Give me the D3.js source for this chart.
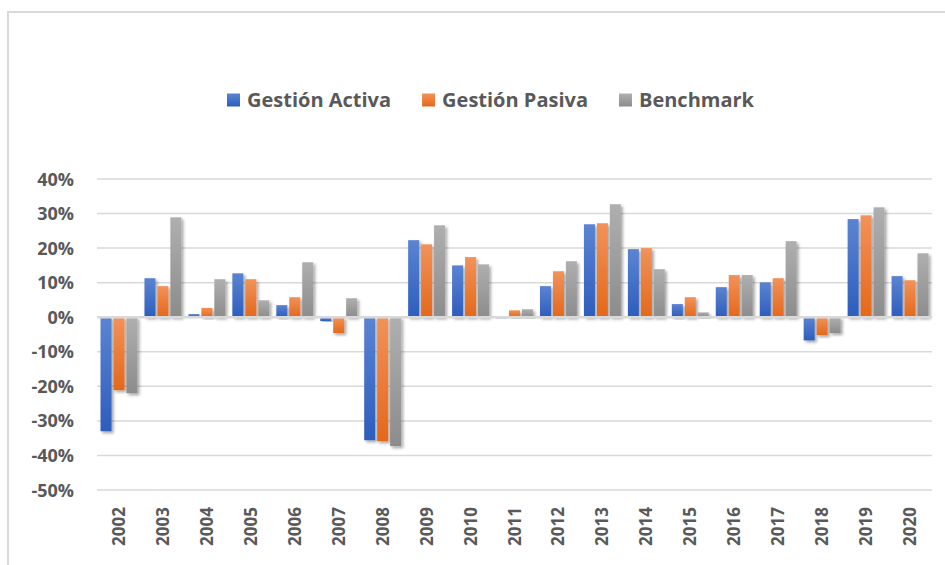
<!DOCTYPE html>
<html>
<head>
<meta charset="utf-8">
<script src="https://cdn.jsdelivr.net/npm/d3@7"></script>
<style>
  body { margin: 0; background: #fff; }
  text { font-family: "Open Sans", sans-serif; font-weight: 700; fill: #595959; }
</style>
</head>
<body>
<div id="chart"></div>
<script>
// data
var years = ["2002","2003","2004","2005","2006","2007","2008","2009","2010","2011",
             "2012","2013","2014","2015","2016","2017","2018","2019","2020"];
var series = ["Gestión Activa", "Gestión Pasiva", "Benchmark"];
var activa = [-33.0, 11.3, 0.9, 12.7, 3.5, -1.1, -35.6, 22.3, 15.0, -0.3,
              9.0, 26.9, 19.7, 3.8, 8.7, 10.1, -6.7, 28.4, 11.9];
var pasiva = [-21.1, 9.0, 2.7, 11.0, 5.8, -4.6, -35.9, 21.1, 17.4, 2.0,
              13.3, 27.2, 20.0, 5.8, 12.2, 11.3, -5.2, 29.5, 10.7];
var bench  = [-22.0, 28.9, 11.0, 4.9, 15.9, 5.5, -37.3, 26.6, 15.3, 2.3,
              16.2, 32.7, 13.9, 1.4, 12.2, 22.0, -4.6, 31.8, 18.5];
var yTicks = [40, 30, 20, 10, 0, -10, -20, -30, -40, -50];

var values = [activa, pasiva, bench];
var data = years.map(function (yr, i) {
  return series.map(function (s, k) { return {year: yr, key: s, value: values[k][i]}; });
});

var W = 945, H = 565;
var svg = d3.select("#chart").append("svg").attr("width", W).attr("height", H);

// gradients + shadow
var defs = svg.append("defs");
var grads = [["#5b84d2", "#2d5dbd"], ["#f2925a", "#e4681a"], ["#afafaf", "#8c8c8c"]];
grads.forEach(function (g, k) {
  var lg = defs.append("linearGradient").attr("id", "g" + k)
    .attr("x1", 0).attr("y1", 0).attr("x2", 0).attr("y2", 1);
  lg.append("stop").attr("offset", "0%").attr("stop-color", g[0]);
  lg.append("stop").attr("offset", "100%").attr("stop-color", g[1]);
});
defs.append("filter").attr("id", "shadow").attr("x", "-50%").attr("y", "-20%")
    .attr("width", "200%").attr("height", "140%")
  .append("feDropShadow").attr("dx", 2).attr("dy", 2).attr("stdDeviation", 1.8)
    .attr("flood-color", "#000").attr("flood-opacity", 0.35);

// frame
svg.append("path").attr("d", "M8," + H + "V12H" + W)
  .attr("fill", "none").attr("stroke", "#d9d9d9").attr("stroke-width", 2);

// scales
var y = d3.scaleLinear().domain([-50, 40]).range([490, 179]);
var x0 = d3.scaleBand().domain(years).range([97, 932]).paddingInner(0.16).paddingOuter(0.08);
var x1 = d3.scaleBand().domain(series).range([0, x0.bandwidth()]).paddingInner(0.15);

// gridlines
svg.append("g").selectAll("line").data(yTicks.filter(function (d) { return d !== 0; }))
  .enter().append("line")
  .attr("x1", 97).attr("x2", 932)
  .attr("y1", function (d) { return y(d); }).attr("y2", function (d) { return y(d); })
  .attr("stroke", "#d9d9d9").attr("stroke-width", 1.5);

// y labels
svg.append("g").selectAll("text").data(yTicks).enter().append("text")
  .attr("x", 74).attr("y", function (d) { return y(d) + 6.5; })
  .attr("text-anchor", "end").style("font-size", "18px")
  .text(function (d) { return d + "%"; });

// bars
svg.append("g").selectAll("g").data(data).enter().append("g")
  .attr("transform", function (d) { return "translate(" + x0(d[0].year) + ",0)"; })
  .selectAll("rect").data(function (d) { return d; }).enter().append("rect")
  .attr("x", function (d) { return x1(d.key); })
  .attr("width", x1.bandwidth())
  .attr("y", function (d) { return y(Math.max(0, d.value)); })
  .attr("height", function (d) { return Math.abs(y(d.value) - y(0)); })
  .attr("fill", function (d) { return "url(#g" + series.indexOf(d.key) + ")"; })
  .attr("filter", "url(#shadow)");

// zero line
svg.append("line").attr("x1", 97).attr("x2", 932).attr("y1", y(0)).attr("y2", y(0))
  .attr("stroke", "#d9d9d9").attr("stroke-width", 2.5);

// x labels
svg.append("g").selectAll("text").data(years).enter().append("text")
  .attr("transform", function (d) {
    return "translate(" + (x0(d) + x0.bandwidth() / 2 + 6) + ",507) rotate(-90)";
  })
  .attr("text-anchor", "end").style("font-size", "17px")
  .text(function (d) { return d; });

// legend
var lx = 227;
var legend = svg.append("g");
series.forEach(function (s, k) {
  legend.append("rect").attr("x", lx).attr("y", 93.5).attr("width", 13).attr("height", 13)
    .attr("fill", "url(#g" + k + ")");
  var t = legend.append("text").attr("x", lx + 20).attr("y", 106.5)
    .style("font-size", "20px").text(s);
  lx += 20 + t.node().getComputedTextLength() + 31;
});
</script>
</body>
</html>
